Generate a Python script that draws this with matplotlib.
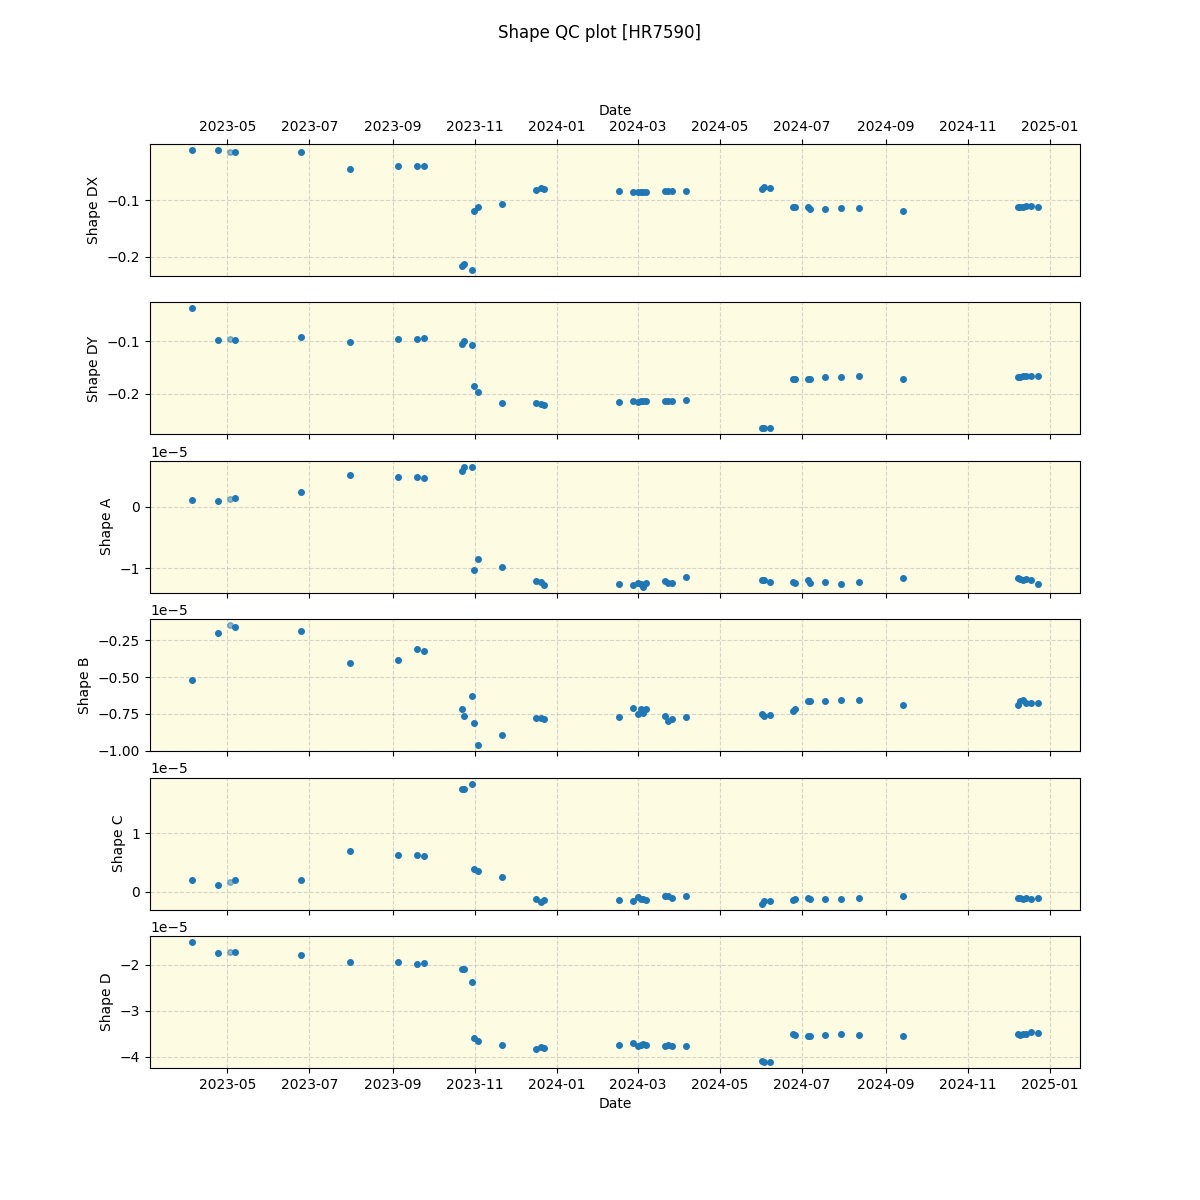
import numpy as np
import pandas as pd
import matplotlib
matplotlib.use("Agg")
import matplotlib.pyplot as plt
import matplotlib.dates as mdates

# observation dates
dates = ["2023-04-05", "2023-04-24", "2023-05-03", "2023-05-07", "2023-06-25",
         "2023-07-31", "2023-09-05", "2023-09-19", "2023-09-24", "2023-10-22",
         "2023-10-24", "2023-10-30", "2023-10-31", "2023-11-03", "2023-11-21",
         "2023-12-16", "2023-12-20", "2023-12-22", "2024-02-16", "2024-02-26",
         "2024-03-01", "2024-03-03", "2024-03-05", "2024-03-07", "2024-03-21",
         "2024-03-23", "2024-03-26", "2024-04-06", "2024-06-01", "2024-06-03",
         "2024-06-07", "2024-06-24", "2024-06-26", "2024-07-05", "2024-07-07",
         "2024-07-18", "2024-07-30", "2024-08-12", "2024-09-14", "2024-12-08",
         "2024-12-10", "2024-12-12", "2024-12-14", "2024-12-18", "2024-12-23"]

# the faded point (index 2)
faded = [2]

shape_dx = [-0.0118, -0.0118, -0.0153, -0.0153, -0.0153, -0.0453, -0.040, -0.040, -0.040, -0.216,
            -0.213, -0.223, -0.1194, -0.1123, -0.107, -0.0824, -0.0788, -0.0806, -0.0841, -0.0859,
            -0.0859, -0.0859, -0.0859, -0.0859, -0.0841, -0.0841, -0.0841, -0.0841, -0.0796, -0.0771,
            -0.0788, -0.1123, -0.1123, -0.1123, -0.1148, -0.1148, -0.114, -0.114, -0.1194, -0.1123,
            -0.1123, -0.1123, -0.111, -0.110, -0.1123]

shape_dy = [-0.0365, -0.098, -0.096, -0.098, -0.0923, -0.102, -0.096, -0.096, -0.094, -0.104,
            -0.0994, -0.1077, -0.1846, -0.198, -0.219, -0.219, -0.221, -0.223, -0.2154, -0.2135,
            -0.2154, -0.2135, -0.2135, -0.2135, -0.2135, -0.2135, -0.2135, -0.2115, -0.267, -0.267,
            -0.2654, -0.173, -0.173, -0.173, -0.1712, -0.169, -0.169, -0.1673, -0.173, -0.169,
            -0.169, -0.1673, -0.1673, -0.1654, -0.1673]

shape_a = [0.113, 0.097, 0.13, 0.146, 0.243, 0.519, 0.486, 0.486, 0.47, 0.583,
           0.648, 0.648, -1.037, -0.859, -0.989, -1.216, -1.232, -1.28, -1.264, -1.28,
           -1.248, -1.264, -1.303, -1.248, -1.216, -1.248, -1.248, -1.151, -1.2, -1.2,
           -1.232, -1.232, -1.248, -1.2, -1.248, -1.232, -1.264, -1.232, -1.167, -1.167,
           -1.183, -1.2, -1.183, -1.2, -1.264]

shape_b = [-0.52, -0.203, -0.149, -0.162, -0.189, -0.405, -0.385, -0.311, -0.324, -0.716,
           -0.764, -0.628, -0.811, -0.962, -0.892, -0.777, -0.777, -0.784, -0.770, -0.709,
           -0.75, -0.716, -0.743, -0.716, -0.764, -0.797, -0.784, -0.770, -0.75, -0.764,
           -0.757, -0.73, -0.716, -0.662, -0.662, -0.662, -0.655, -0.655, -0.689, -0.689,
           -0.662, -0.655, -0.676, -0.676, -0.676]

shape_c = [0.206, 0.12, 0.172, 0.206, 0.206, 0.703, 0.635, 0.635, 0.617, 1.767,
           1.767, 1.852, 0.395, 0.36, 0.257, -0.12, -0.172, -0.137, -0.137, -0.154,
           -0.086, -0.12, -0.12, -0.137, -0.069, -0.069, -0.103, -0.069, -0.206, -0.154,
           -0.154, -0.137, -0.12, -0.103, -0.12, -0.12, -0.12, -0.103, -0.069, -0.103,
           -0.103, -0.12, -0.103, -0.12, -0.103]

shape_d = [-1.5, -1.739, -1.717, -1.717, -1.783, -1.935, -1.935, -1.978, -1.957, -2.087,
           -2.087, -2.37, -3.587, -3.652, -3.739, -3.826, -3.783, -3.804, -3.739, -3.696,
           -3.761, -3.739, -3.717, -3.739, -3.761, -3.739, -3.761, -3.761, -4.087, -4.109,
           -4.109, -3.5, -3.522, -3.543, -3.543, -3.522, -3.5, -3.522, -3.543, -3.5,
           -3.522, -3.5, -3.5, -3.457, -3.478]

# A-D are in units of 1e-5
series = [("Shape DX", shape_dx, 1.0),
          ("Shape DY", shape_dy, 1.0),
          ("Shape A", shape_a, 1e-5),
          ("Shape B", shape_b, 1e-5),
          ("Shape C", shape_c, 1e-5),
          ("Shape D", shape_d, 1e-5)]

t = pd.to_datetime(dates)
good = np.array([i not in faded for i in range(len(dates))])

fig, axes = plt.subplots(6, 1, sharex=True, figsize=(12, 12))

for ax, (name, vals, scale) in zip(axes, series):
    y = np.array(vals) * scale
    ax.set_facecolor("#fdfbe2")
    ax.scatter(t[good], y[good], s=16, color="tab:blue", zorder=3)
    ax.scatter(t[~good], y[~good], s=16, color="tab:blue", alpha=0.5, zorder=3)
    ax.grid(True, linestyle="--", alpha=0.5)
    ax.set_ylabel(name)

# dates on top of the first panel as well
axes[0].xaxis.set_tick_params(top=True, labeltop=True, bottom=False, labelbottom=False)
axes[0].xaxis.set_label_position("top")
axes[0].set_xlabel("Date")
axes[-1].set_xlabel("Date")
axes[-1].xaxis.set_major_formatter(mdates.DateFormatter("%Y-%m"))

fig.suptitle("Shape QC plot [HR7590]")
plt.savefig("out.png", dpi=100)
